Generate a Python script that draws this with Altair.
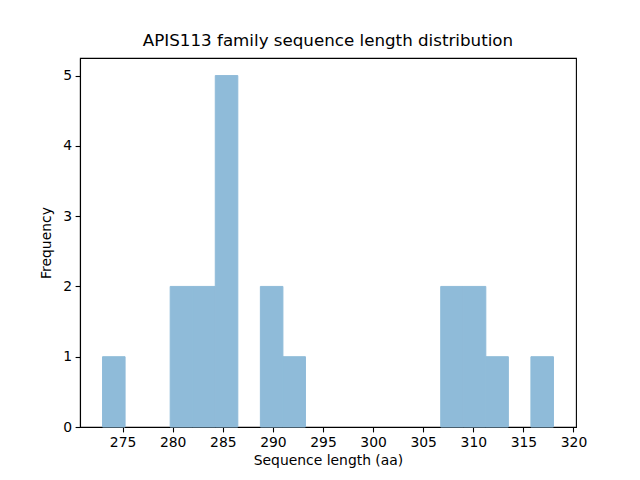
import pandas as pd
import altair as alt

# sequence lengths (aa) of the APIS113 family members
lengths = [273, 280, 281, 283, 284, 285, 285, 285, 286, 286,
           289, 290, 292, 307, 308, 310, 311, 312, 318]

x_ticks = [275, 280, 285, 290, 295, 300, 305, 310, 315, 320]
y_ticks = [0, 1, 2, 3, 4, 5]

df = pd.DataFrame({"length": lengths})

font = "DejaVu Sans"
bar_color = "#8FBBD9"  # C0 blue at alpha 0.5 on white

chart = alt.Chart(df).transform_bin(
    ["bin_start", "bin_end"], "length",
    bin=alt.Bin(extent=[273, 318], step=2.25, nice=False)
).transform_aggregate(
    count="count()", groupby=["bin_start", "bin_end"]
).mark_rect(color=bar_color, stroke=bar_color, strokeWidth=1).encode(
    x=alt.X("bin_start:Q", title="Sequence length (aa)",
            scale=alt.Scale(domain=[270.75, 320.25], nice=False, zero=False),
            axis=alt.Axis(values=x_ticks, format="d")),
    x2="bin_end:Q",
    y=alt.Y("count:Q", title="Frequency",
            scale=alt.Scale(domain=[0, 5.25], nice=False),
            axis=alt.Axis(values=y_ticks, format="d")),
).properties(
    width=496,
    height=369,
    autosize=alt.AutoSizeParams(type="none"),
    padding={"left": 72, "top": 50, "right": 56, "bottom": 45},
    title=alt.Title("APIS113 family sequence length distribution",
                    font=font, fontSize=16.7, fontWeight="normal",
                    color="black", anchor="middle", offset=8),
).configure_view(
    stroke="black", strokeWidth=1.1
).configure_axis(
    labelFont=font, labelFontSize=13.9, labelColor="black",
    titleFont=font, titleFontSize=13.9, titleColor="black", titleFontWeight="normal",
    domainColor="black", domainWidth=1.1,
    tickColor="black", tickWidth=1.1, tickSize=4.9,
    labelPadding=3.5, grid=False,
).configure_axisX(
    titlePadding=4
).configure_axisY(
    titlePadding=9
)

chart.save("out.html", embed_options={"renderer": "svg", "actions": False})
